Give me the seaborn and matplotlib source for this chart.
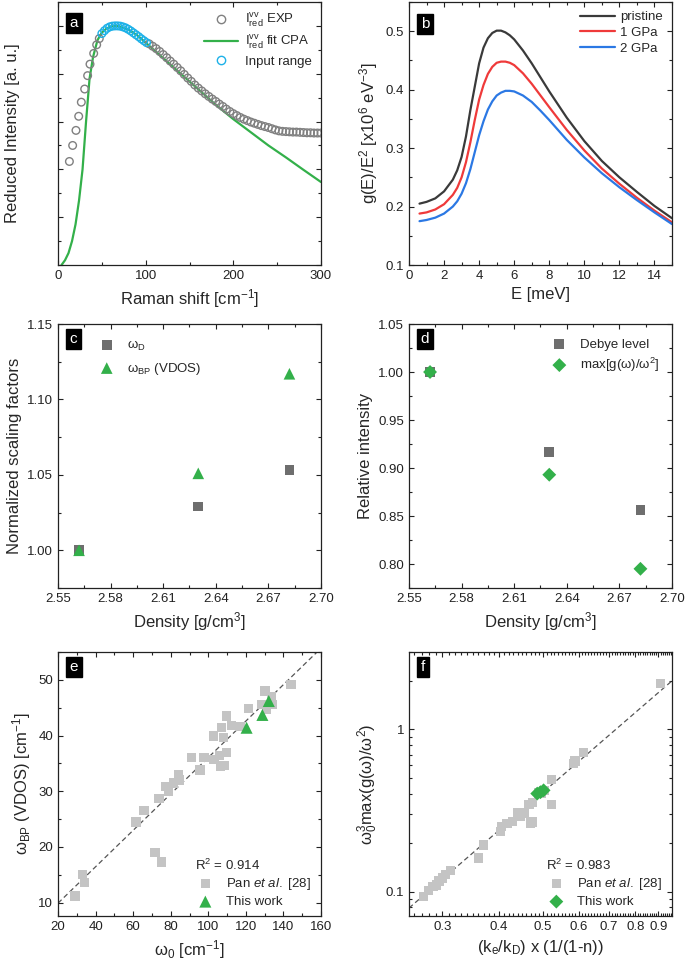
import numpy as np
import pandas as pd
import matplotlib
matplotlib.use("Agg")
import matplotlib.pyplot as plt
import seaborn as sns
from matplotlib.lines import Line2D
from matplotlib.ticker import MultipleLocator, FixedLocator, NullFormatter, FixedFormatter

# ---------------- Panel a : reduced Raman intensity ----------------
exp_x = [13, 16.7, 20.5, 23.6, 26.6, 30.4, 33.8, 36.5, 40.7, 44.1, 47.1,
         104, 108, 112, 116, 120, 124, 128, 132, 136, 140, 144, 148, 152, 156,
         160, 164, 168, 172, 176, 180, 184, 188, 192, 196, 200, 204, 208, 212,
         216, 220, 224, 228, 232, 236, 240, 244, 248, 252, 256, 260, 264, 268,
         272, 276, 280, 284, 288, 292, 296, 300]
exp_y = [0.433, 0.500, 0.563, 0.622, 0.681, 0.736, 0.792, 0.840, 0.885, 0.921, 0.947,
         0.925, 0.915, 0.905, 0.893, 0.880, 0.867, 0.853, 0.840, 0.826, 0.812, 0.797,
         0.782, 0.768, 0.753, 0.740, 0.728, 0.716, 0.705, 0.694, 0.684, 0.673, 0.663,
         0.652, 0.642, 0.633, 0.625, 0.617, 0.610, 0.604, 0.598, 0.593, 0.588, 0.583,
         0.579, 0.575, 0.570, 0.565, 0.561, 0.559, 0.558, 0.557, 0.556, 0.556, 0.555,
         0.554, 0.553, 0.553, 0.552, 0.552, 0.552]
inp_x = [50, 53, 56, 59, 62, 65, 68, 71, 74, 77, 80, 83, 86, 89, 92, 95, 98, 101]
inp_y = [0.968, 0.980, 0.990, 0.996, 0.999, 1.000, 1.000, 0.999, 0.996, 0.992,
         0.986, 0.979, 0.971, 0.963, 0.955, 0.946, 0.938, 0.930]
cpa_x = [4, 8, 12, 16, 20, 24, 28, 32, 36, 40, 45, 50, 55, 60, 65, 70, 80, 90, 100,
         120, 140, 160, 180, 200, 220, 240, 260, 280, 300]
cpa_y = [0.0, 0.02, 0.05, 0.10, 0.17, 0.27, 0.40, 0.60, 0.78, 0.87, 0.94, 0.972,
         0.988, 0.997, 1.0, 0.998, 0.985, 0.962, 0.930, 0.865, 0.800, 0.735, 0.670,
         0.610, 0.555, 0.500, 0.450, 0.398, 0.347]

# ---------------- Panel b : reduced VDOS ----------------
e_mev = [0.6, 1.0, 1.5, 2.0, 2.5, 2.75, 3.0, 3.25, 3.5, 3.75, 4.0, 4.25, 4.5, 4.75,
         5.0, 5.25, 5.5, 5.75, 6.0, 6.5, 7.0, 7.5, 8, 9, 10, 11, 12, 13, 14, 15]
g_pristine = [0.205, 0.208, 0.214, 0.226, 0.246, 0.262, 0.285, 0.320, 0.365, 0.405,
              0.445, 0.472, 0.488, 0.497, 0.501, 0.501, 0.498, 0.493, 0.486, 0.467,
              0.445, 0.421, 0.397, 0.352, 0.312, 0.278, 0.250, 0.225, 0.201, 0.180]
g_1gpa = [0.188, 0.190, 0.195, 0.204, 0.220, 0.232, 0.250, 0.276, 0.310, 0.348,
          0.383, 0.408, 0.427, 0.439, 0.446, 0.448, 0.448, 0.446, 0.442, 0.428,
          0.410, 0.390, 0.370, 0.331, 0.296, 0.265, 0.239, 0.215, 0.193, 0.173]
g_2gpa = [0.175, 0.177, 0.181, 0.188, 0.200, 0.209, 0.222, 0.240, 0.264, 0.293,
          0.322, 0.346, 0.366, 0.380, 0.390, 0.395, 0.398, 0.398, 0.397, 0.390,
          0.379, 0.364, 0.348, 0.314, 0.284, 0.257, 0.233, 0.211, 0.190, 0.170]
pressure_labels = ["pristine", "1 GPa", "2 GPa"]

# ---------------- Panel c / d ----------------
density = [2.562, 2.630, 2.682]
omega_d = [1.000, 1.029, 1.053]
omega_bp = [1.000, 1.051, 1.117]
debye_level = [1.000, 0.917, 0.856]
max_g_w2 = [1.000, 0.893, 0.795]

# ---------------- Panel e ----------------
pan_w0 = [29.1, 33.0, 34.0, 61.5, 65.8, 71.6, 75.0, 73.8, 77.5, 78.7, 81.4, 84.1, 84.4,
          91.0, 95.6, 97.7, 102.7, 103.1, 105.9, 106.6, 108.4, 108.0, 107.1, 109.8, 109.8,
          112.5, 116.9, 121.3, 130.2, 128.5, 131.1, 133.7, 134.1, 144.0]
pan_wbp = [11.2, 15.0, 13.6, 24.5, 26.6, 19.0, 17.3, 28.7, 30.9, 30.0, 31.5, 33.0, 32.0,
           36.1, 33.8, 36.1, 39.9, 35.7, 36.4, 34.5, 34.6, 39.7, 41.4, 43.5, 37.0,
           41.8, 41.6, 44.8, 48.0, 45.6, 44.7, 47.0, 45.6, 49.2]
this_w0 = [120.4, 128.8, 132.2]
this_wbp = [41.4, 43.7, 46.2]
fit_e = [0.327, 3.36]      # slope, intercept
r2_e = 0.914

# ---------------- Panel f ----------------
pan_k = [0.273, 0.280, 0.286, 0.291, 0.295, 0.300, 0.305, 0.313, 0.361, 0.370, 0.403,
         0.405, 0.417, 0.428, 0.439, 0.447, 0.455, 0.466, 0.469, 0.475, 0.475, 0.489,
         0.497, 0.503, 0.522, 0.522, 0.585, 0.589, 0.614, 0.908]
pan_g = [0.093, 0.102, 0.107, 0.110, 0.116, 0.121, 0.127, 0.135, 0.161, 0.194, 0.235,
         0.252, 0.262, 0.271, 0.308, 0.291, 0.305, 0.343, 0.265, 0.268, 0.355, 0.406,
         0.406, 0.421, 0.343, 0.491, 0.616, 0.637, 0.717, 1.926]
this_k = [0.486, 0.494, 0.502]
this_g = [0.402, 0.410, 0.421]
fit_f = [2.176, 2.413]     # prefactor, exponent
r2_f = 0.983

# ---------------- style ----------------
sns.set_theme(style="ticks")
plt.rcParams["font.family"] = ["Liberation Sans", "DejaVu Sans"]
plt.rcParams["mathtext.fontset"] = "custom"
plt.rcParams["mathtext.rm"] = "Liberation Sans"
plt.rcParams["mathtext.it"] = "Liberation Sans:italic"
plt.rcParams["mathtext.bf"] = "Liberation Sans:bold"
plt.rcParams["axes.linewidth"] = 0.9
plt.rcParams["axes.edgecolor"] = "#222222"

GRAY_C = "#808080"
CYAN = "#1db1e8"
GREEN = "#33b04a"
DARK = "#3a3a3a"
RED = "#ef3a3a"
BLUE = "#2b78e4"
SQ_DARK = "#6e6e6e"
SQ_LIGHT = "#c4c4c4"

TICK_FS = 9.5
LABEL_FS = 12
LEG_FS = 9.5

fig = plt.figure(figsize=(6.85, 9.63), dpi=100)
W, H = 685.0, 963.0
def add_ax(l, r, t, b):
    return fig.add_axes([l / W, 1 - b / H, (r - l) / W, (b - t) / H])

ax_a = add_ax(58, 321, 2, 265)
ax_b = add_ax(409, 672, 2, 265)
ax_c = add_ax(58, 321, 324, 588)
ax_d = add_ax(409, 672, 324, 588)
ax_e = add_ax(58, 321, 652, 916)
ax_f = add_ax(409, 672, 652, 916)

def style(ax):
    ax.tick_params(which="both", direction="in", top=True, right=True,
                   labelsize=TICK_FS, colors="#222222", width=0.8)
    ax.tick_params(which="major", length=3.5)
    ax.tick_params(which="minor", length=2)
    for s in ax.spines.values():
        s.set_visible(True)
        s.set_linewidth(0.9)

def panel_label(ax, letter, top):
    ax.text(0.045, top, letter, transform=ax.transAxes, ha="left", va="top",
            color="white", fontsize=11,
            bbox=dict(facecolor="black", edgecolor="black", boxstyle="square,pad=0.22"))

# ---- a ----
ax = ax_a
sns.scatterplot(x=exp_x, y=exp_y, ax=ax, marker="o", s=30, facecolor="none",
                edgecolor=GRAY_C, linewidth=1.0, zorder=3)
sns.lineplot(x=cpa_x, y=cpa_y, ax=ax, color=GREEN, linewidth=1.6, zorder=2)
sns.scatterplot(x=inp_x, y=inp_y, ax=ax, marker="o", s=30, facecolor="none",
                edgecolor=CYAN, linewidth=1.0, zorder=4)
ax.set_xlim(0, 300)
ax.set_ylim(0, 1.1)
ax.xaxis.set_major_locator(MultipleLocator(100))
ax.xaxis.set_minor_locator(MultipleLocator(50))
ax.yaxis.set_major_locator(MultipleLocator(0.2))
ax.yaxis.set_minor_locator(MultipleLocator(0.1))
ax.yaxis.set_major_formatter(NullFormatter())
style(ax)
ax.set_xlabel("Raman shift [cm$^{-1}$]", fontsize=LABEL_FS)
ax.set_ylabel("Reduced Intensity [a. u.]", fontsize=LABEL_FS, labelpad=24)
handles = [Line2D([], [], marker="o", ls="none", mfc="none", mec=GRAY_C, ms=6, mew=1.0),
           Line2D([], [], color=GREEN, lw=1.6),
           Line2D([], [], marker="o", ls="none", mfc="none", mec=CYAN, ms=6, mew=1.0)]
labels = [r"I$^{\mathrm{vv}}_{\mathrm{red}}$ EXP", r"I$^{\mathrm{vv}}_{\mathrm{red}}$ fit CPA", "Input range"]
ax.legend(handles, labels, loc="upper right", bbox_to_anchor=(1.0, 1.0), frameon=False,
          fontsize=LEG_FS, handlelength=2.6, handletextpad=0.5, labelspacing=0.35,
          borderaxespad=0.3)
panel_label(ax, "a", 0.947)

# ---- b ----
ax = ax_b
df_b = pd.DataFrame({"E": e_mev * 3,
                     "g": g_pristine + g_1gpa + g_2gpa,
                     "sample": [pressure_labels[0]] * len(e_mev) + [pressure_labels[1]] * len(e_mev)
                               + [pressure_labels[2]] * len(e_mev)})
sns.lineplot(data=df_b, x="E", y="g", hue="sample", palette=[DARK, RED, BLUE],
             linewidth=1.6, ax=ax)
ax.set_xlim(0, 15)
ax.set_ylim(0.1, 0.55)
ax.xaxis.set_major_locator(MultipleLocator(2))
ax.xaxis.set_minor_locator(MultipleLocator(1))
ax.yaxis.set_major_locator(MultipleLocator(0.1))
ax.yaxis.set_minor_locator(MultipleLocator(0.05))
style(ax)
ax.set_xlabel("E [meV]", fontsize=LABEL_FS)
ax.set_ylabel("g(E)/E$^2$ [x10$^6$ eV$^{-3}$]", fontsize=LABEL_FS)
ax.legend(loc="upper right", frameon=False, fontsize=LEG_FS, handlelength=2.6,
          handletextpad=0.4, labelspacing=0.25, borderaxespad=0.3, title=None)
panel_label(ax, "b", 0.943)

# ---- c ----
ax = ax_c
sns.scatterplot(x=density, y=omega_d, ax=ax, marker="s", s=50, color=SQ_DARK,
                edgecolor="none", label=r"ω$_{\mathrm{D}}$", zorder=3)
sns.scatterplot(x=density, y=omega_bp, ax=ax, marker="^", s=70, color=GREEN,
                edgecolor="none", label=r"ω$_{\mathrm{BP}}$ (VDOS)", zorder=4)
ax.set_xlim(2.55, 2.70)
ax.set_ylim(0.975, 1.15)
ax.xaxis.set_major_locator(FixedLocator([2.55, 2.58, 2.61, 2.64, 2.67, 2.70]))
ax.xaxis.set_major_formatter(FixedFormatter(["2.55", "2.58", "2.61", "2.64", "2.67", "2.70"]))
ax.xaxis.set_minor_locator(MultipleLocator(0.015))
ax.yaxis.set_major_locator(MultipleLocator(0.05))
ax.yaxis.set_minor_locator(MultipleLocator(0.025))
ax.yaxis.set_major_formatter(matplotlib.ticker.FormatStrFormatter("%.2f"))
style(ax)
ax.set_xlabel("Density [g/cm$^3$]", fontsize=LABEL_FS)
ax.set_ylabel("Normalized scaling factors", fontsize=LABEL_FS)
ax.legend(loc="upper left", bbox_to_anchor=(0.09, 0.99), frameon=False, fontsize=LEG_FS,
          handletextpad=0.5, labelspacing=0.6, markerscale=1.0)
panel_label(ax, "c", 0.97)

# ---- d ----
ax = ax_d
sns.scatterplot(x=density, y=debye_level, ax=ax, marker="s", s=50, color=SQ_DARK,
                edgecolor="none", label="Debye level", zorder=3)
sns.scatterplot(x=density, y=max_g_w2, ax=ax, marker="D", s=50, color=GREEN,
                edgecolor="none", label=r"max[g(ω)/ω$^2$]", zorder=4)
ax.set_xlim(2.55, 2.70)
ax.set_ylim(0.775, 1.05)
ax.xaxis.set_major_locator(FixedLocator([2.55, 2.58, 2.61, 2.64, 2.67, 2.70]))
ax.xaxis.set_major_formatter(FixedFormatter(["2.55", "2.58", "2.61", "2.64", "2.67", "2.70"]))
ax.xaxis.set_minor_locator(MultipleLocator(0.015))
ax.yaxis.set_major_locator(MultipleLocator(0.05))
ax.yaxis.set_minor_locator(MultipleLocator(0.025))
ax.yaxis.set_major_formatter(matplotlib.ticker.FormatStrFormatter("%.2f"))
style(ax)
ax.set_xlabel("Density [g/cm$^3$]", fontsize=LABEL_FS)
ax.set_ylabel("Relative intensity", fontsize=LABEL_FS)
ax.legend(loc="upper right", bbox_to_anchor=(1.0, 0.99), frameon=False, fontsize=LEG_FS,
          handletextpad=0.6, labelspacing=0.35)
panel_label(ax, "d", 0.97)

# ---- e ----
ax = ax_e
ax.set_xlim(20, 160)
ax.set_ylim(7.6, 55)
xl = np.array(ax.get_xlim())
sns.lineplot(x=xl, y=fit_e[0] * xl + fit_e[1], ax=ax, color="#555555", linewidth=0.9,
             zorder=1)
ax.lines[-1].set_dashes([4, 2.5])
sns.scatterplot(x=pan_w0, y=pan_wbp, ax=ax, marker="s", s=45, color=SQ_LIGHT,
                edgecolor="none", label=r"Pan $\mathit{et\ al.}$ [28]", zorder=2)
sns.scatterplot(x=this_w0, y=this_wbp, ax=ax, marker="^", s=75, color=GREEN,
                edgecolor="none", label="This work", zorder=3)
ax.set_xlim(20, 160)
ax.set_ylim(7.6, 55)
ax.xaxis.set_major_locator(MultipleLocator(20))
ax.xaxis.set_minor_locator(MultipleLocator(10))
ax.yaxis.set_major_locator(MultipleLocator(10))
ax.yaxis.set_minor_locator(MultipleLocator(5))
style(ax)
ax.set_xlabel("ω$_0$ [cm$^{-1}$]", fontsize=LABEL_FS)
ax.set_ylabel("ω$_{\\mathrm{BP}}$ (VDOS) [cm$^{-1}$]", fontsize=LABEL_FS)
ax.text(0.52, 0.19, f"R$^2$ = {r2_e:.3f}", transform=ax.transAxes, fontsize=LEG_FS,
        ha="left", va="center")
ax.legend(loc="upper left", bbox_to_anchor=(0.49, 0.172), frameon=False, fontsize=LEG_FS,
          handletextpad=0.6, labelspacing=0.3, borderaxespad=0)
panel_label(ax, "e", 0.97)

# ---- f ----
ax = ax_f
ax.set_xscale("log")
ax.set_yscale("log")
ax.set_xlim(0.2533, 0.964)
ax.set_ylim(0.0707, 3.0)
xf = np.geomspace(*ax.get_xlim(), 50)
sns.lineplot(x=xf, y=fit_f[0] * xf ** fit_f[1], ax=ax, color="#555555", linewidth=0.9,
             zorder=1)
ax.lines[-1].set_dashes([4, 2.5])
sns.scatterplot(x=pan_k, y=pan_g, ax=ax, marker="s", s=45, color=SQ_LIGHT,
                edgecolor="none", label=r"Pan $\mathit{et\ al.}$ [28]", zorder=2)
sns.scatterplot(x=this_k, y=this_g, ax=ax, marker="D", s=50, color=GREEN,
                edgecolor="none", label="This work", zorder=3)
ax.set_xlim(0.2533, 0.964)
ax.set_ylim(0.0707, 3.0)
xt = [0.3, 0.4, 0.5, 0.6, 0.7, 0.8, 0.9]
ax.xaxis.set_major_locator(FixedLocator(xt))
ax.xaxis.set_major_formatter(FixedFormatter([f"{v:.1f}" for v in xt]))
ax.xaxis.set_minor_locator(FixedLocator(np.round(np.arange(0.26, 0.97, 0.01), 2)))
ax.xaxis.set_minor_formatter(NullFormatter())
ax.yaxis.set_major_locator(FixedLocator([0.1, 1]))
ax.yaxis.set_major_formatter(FixedFormatter(["0.1", "1"]))
ax.yaxis.set_minor_locator(matplotlib.ticker.LogLocator(base=10, subs=np.arange(2, 10) * 1.0))
ax.yaxis.set_minor_formatter(NullFormatter())
style(ax)
ax.set_xlabel("(k$_{\\mathrm{e}}$/k$_{\\mathrm{D}}$) x (1/(1-n))", fontsize=LABEL_FS)
ax.set_ylabel("ω$_0^3$max(g(ω)/ω$^2$)", fontsize=LABEL_FS)
ax.text(0.52, 0.19, f"R$^2$ = {r2_f:.3f}", transform=ax.transAxes, fontsize=LEG_FS,
        ha="left", va="center")
ax.legend(loc="upper left", bbox_to_anchor=(0.49, 0.172), frameon=False, fontsize=LEG_FS,
          handletextpad=0.6, labelspacing=0.3, borderaxespad=0)
panel_label(ax, "f", 0.97)

fig.savefig("out.png", dpi=100)
